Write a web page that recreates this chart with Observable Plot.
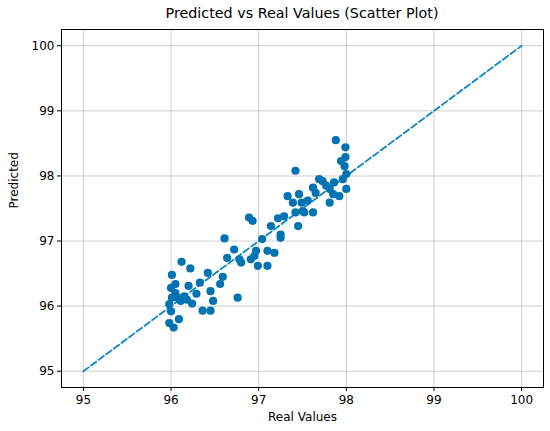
<!DOCTYPE html>
<html>
<head>
<meta charset="utf-8">
<script src="https://cdn.jsdelivr.net/npm/d3@7"></script>
<script src="https://cdn.jsdelivr.net/npm/@observablehq/plot@0.6"></script>
<style>
  html, body { margin: 0; padding: 0; background: #fff; }
  #wrap { width: 550px; height: 431px; font-family: "DejaVu Sans", sans-serif; }
  #title { height: 24px; line-height: 26px; text-align: center; font-size: 14.3px; color: #000; padding-left: 54px; box-sizing: border-box; }
  svg { display: block; }
</style>
</head>
<body>
<div id="wrap">
  <div id="title">Predicted vs Real Values (Scatter Plot)</div>
  <div id="chart"></div>
</div>
<script>
const realValues = [
  96.12, 96.22, 96.01, 96.00, 96.05, 96.05, 96.01, 96.07, 96.11, 96.15,
  96.18, 96.20, 96.24, 96.29, 96.33, 96.42, 96.45, 96.48, 96.36, 96.45,
  96.56, 96.59, 96.76, 95.98, 96.09, 96.03, 96.00, 95.98,
  97.33, 97.46, 97.39, 97.49, 96.89, 96.93, 97.22, 97.29, 97.42, 97.50,
  97.14, 97.45, 97.25, 97.25, 96.61, 97.04, 96.72, 96.97, 96.95, 97.10,
  97.18, 96.64, 96.78, 96.80, 96.91, 97.10, 96.99,
  97.88, 97.99, 97.99, 97.94, 97.98, 97.42, 98.00, 97.69, 97.73, 97.86,
  97.96, 97.62, 97.77, 97.81, 98.00, 97.65, 97.85, 97.92, 97.56, 97.81,
  97.52, 97.62
];
const predictedValues = [
  96.68, 96.58, 96.48, 96.28, 96.34, 96.20, 96.13, 96.13, 96.08, 96.15,
  96.10, 96.31, 96.04, 96.19, 96.36, 96.51, 96.23, 96.08, 95.93, 95.93,
  96.34, 96.45, 96.13, 95.74, 95.80, 95.67, 95.92, 96.03,
  97.69, 97.72, 97.59, 97.59, 97.36, 97.31, 97.35, 97.38, 97.44, 97.46,
  97.23, 97.23, 97.10, 97.05, 97.04, 97.03, 96.87, 96.85, 96.77, 96.85,
  96.82, 96.74, 96.72, 96.67, 96.72, 96.62, 96.62,
  98.55, 98.44, 98.29, 98.23, 98.15, 98.08, 98.03, 97.95, 97.92, 97.90,
  97.95, 97.82, 97.85, 97.80, 97.80, 97.74, 97.72, 97.69, 97.62, 97.59,
  97.44, 97.44
];
const idealLineX = [95, 100];
const idealLineY = [95, 100];
const xTicks = [95, 96, 97, 98, 99, 100];
const yTicks = [95, 96, 97, 98, 99, 100];
const titleText = "Predicted vs Real Values (Scatter Plot)";
const xLabel = "Real Values";
const yLabel = "Predicted";

const points = realValues.map((r, i) => ({ real: r, predicted: predictedValues[i] }));
const line = idealLineX.map((x, i) => ({ x, y: idealLineY[i] }));
const fmt = d3.format("d");

const chart = Plot.plot({
  width: 550,
  height: 407,
  marginLeft: 61,
  marginRight: 7,
  marginTop: 5,
  marginBottom: 44,
  style: { fontFamily: "DejaVu Sans, sans-serif", fontSize: "12px", color: "#000", background: "#fff" },
  x: { domain: [94.75, 100.25] },
  y: { domain: [94.75, 100.25] },
  marks: [
    Plot.gridX(xTicks, { stroke: "#b0b0b0", strokeOpacity: 0.6, strokeWidth: 1 }),
    Plot.gridY(yTicks, { stroke: "#b0b0b0", strokeOpacity: 0.6, strokeWidth: 1 }),
    Plot.line(line, { x: "x", y: "y", stroke: "#0a86c8", strokeWidth: 1.8, strokeDasharray: "6.5,3" }),
    Plot.dot(points, { x: "real", y: "predicted", r: 4.1, fill: "#0173b2", stroke: "none" }),
    Plot.frame({ stroke: "#000", strokeWidth: 1 }),
    Plot.axisX(xTicks, { tickSize: 4, tickPadding: 4, tickFormat: fmt, label: null, fontSize: 12, stroke: "#000" }),
    Plot.axisY(yTicks, { tickSize: 4, tickPadding: 3, tickFormat: fmt, label: null, fontSize: 12, stroke: "#000" }),
    Plot.text([xLabel], { frameAnchor: "bottom", dy: 33, fontSize: 12, fill: "#000" }),
    Plot.text([yLabel], { frameAnchor: "left", dx: -47, rotate: -90, fontSize: 12, fill: "#000" })
  ]
});
document.getElementById("chart").appendChild(chart);
document.getElementById("title").textContent = titleText;
</script>
</body>
</html>
